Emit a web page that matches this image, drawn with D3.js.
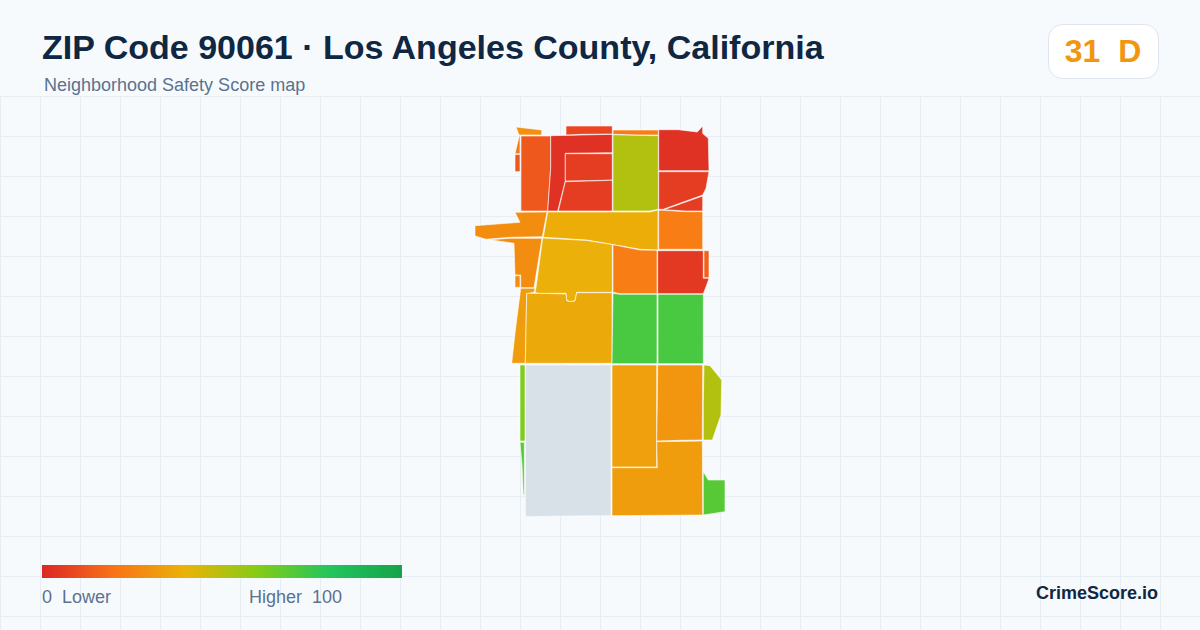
<!DOCTYPE html>
<html>
<head>
<meta charset="utf-8">
<script src="https://cdn.jsdelivr.net/npm/d3@7/dist/d3.min.js"></script>
<style>
  html, body { margin: 0; padding: 0; background: #f7fafc; }
  svg { display: block; }
  text { font-family: "Liberation Sans", Arial, sans-serif; white-space: pre; }
</style>
</head>
<body>
<svg id="chart" width="1200" height="630"></svg>
<script>
const titleText = "ZIP Code 90061 · Los Angeles County, California";
const subtitleText = "Neighborhood Safety Score map";
const scoreValue = 31;
const scoreGrade = "D";
const brandText = "CrimeScore.io";
const legendLow = "0  Lower";
const legendHigh = "Higher  100";

const colorDomain = [0, 20, 40, 60, 80, 100];
const colorRange = ["#dc2626", "#f97316", "#eab308", "#84cc16", "#22c55e", "#16a34a"];

// tract scores, null = no data. same order as tractRings
const tractScores = [
  29, 22, 13, 13, 3, 8, 6, 6, 23, 51, 3, 6, 6,
  38, 28, 23, 15, 28, 39, 23, 5, 28,
  33, 37, 72, 72, 61, 69, null, 34, 31, 33, 51, 69
];

// outlines, in map units
const tractRings = [
  [[516,127],[541.7,130],[541.7,135],[519,135]],
  [[519.3,135.7],[520,135.7],[520,153.7],[515,153.7]],
  [[515,154.5],[520,154.5],[520,171.7],[515,171.7]],
  [[521,136],[550.7,136],[550.7,168],[547.7,211],[521,211]],
  [[550.7,135.7],[581.7,135],[612.3,134.3],[612.3,152.7],[565.3,153.3],[565.3,181],[557.7,211],[547.7,211],[550.7,168]],
  [[566,126],[612.3,126],[612.3,134],[581.7,134.3],[566,135]],
  [[565.3,153.7],[612.3,153.7],[612.3,180],[588.3,180.7],[565.3,181]],
  [[565.3,181.7],[588.3,181],[612.3,180.3],[612.3,211],[558.3,211]],
  [[613,130],[658.3,130],[658.3,135],[635,135],[613,134.3]],
  [[613,134.7],[635,135.3],[658.3,135.7],[658.3,209.3],[650,211],[613,211]],
  [[658.7,129.7],[678.3,129.7],[697.3,132],[702.7,126],[702.7,133.5],[708.3,138.3],[709,170.7],[658.7,170.7]],
  [[658.7,171.7],[709,171.7],[706,188.3],[702.7,195],[663.3,209.3],[658.7,209.3]],
  [[702.7,196],[702.7,211],[685,211],[664,209.7]],
  [[547.7,212],[650,212],[658,210],[658,250],[640,249.3],[586.7,240],[543.3,237.3]],
  [[515,212.3],[547,212],[542.3,236.7],[510,237.3],[486,239.3],[475,236],[475,225.7],[520,222.3]],
  [[658.7,210.3],[664,210.3],[685,211.7],[702.7,211.7],[702.7,249.3],[658.7,249.3]],
  [[704,250.7],[709,250.7],[709,277.7],[704,277.7]],
  [[490,239.8],[510,238.3],[542,238.3],[534,287.7],[520.7,287.7],[520.7,275],[515,275],[514,243.3]],
  [[542.7,238],[586.7,240.5],[612.3,244.5],[612.3,292.3],[576.7,292.3],[575,300.7],[570,301.7],[566.7,300],[566,293.3],[538.3,293.3],[535,292.3],[536,287.7]],
  [[613,244.7],[640,250],[657,250.3],[657,293.7],[620,293.7],[613,292.3]],
  [[657.7,250.7],[703.3,250.7],[703.3,278.3],[709,278.3],[706.7,285],[703.3,293.7],[657.7,293.7]],
  [[515,275.7],[520,275.7],[520,287.3],[515,287.3]],
  [[520.7,288.3],[535,288.3],[534,292.3],[526.7,293.7],[525.3,363.3],[511.7,363.3],[515,333.3]],
  [[526.7,293.3],[535,293.3],[566,294],[566.7,300.7],[570,301.7],[575,301],[576.7,292.7],[612,292.7],[612,363.3],[525.3,363.3]],
  [[613,293.3],[620,294.3],[657,294.3],[657,363.7],[612,363.7],[612.5,328]],
  [[658,294.3],[703.3,294.3],[703.3,363.7],[658,363.7]],
  [[520,365],[525,365],[525,441],[520,441]],
  [[520,442.3],[524.3,442.3],[524.3,495],[523.3,495],[522,465]],
  [[525.7,365],[611,365],[611,515.7],[568,516],[525.3,516.7]],
  [[612,365],[656.7,365],[656.7,467],[612,467]],
  [[657.7,365],[702.7,365],[702.3,440],[680,440.3],[656.7,441],[657.3,403]],
  [[656.7,441.7],[702.3,441],[702.7,515],[612,515.7],[612,467.7],[657.3,467.7]],
  [[704,365],[710,365.7],[721.7,380],[721,415],[712.3,440],[703.3,440],[703.3,401.7]],
  [[703.3,471.7],[708.3,480],[725,480],[725,511.7],[703.3,515]]
];

const svg = d3.select("#chart");
const color = d3.scaleLinear().domain(colorDomain).range(colorRange);
const noDataColor = "#d8e1e8";

// background grid below the header
const grid = svg.append("g").attr("stroke", "#e6eef3").attr("stroke-width", 1);
grid.selectAll("line.v").data(d3.range(0, 1200, 40)).enter().append("line")
  .attr("class", "v").attr("x1", d => d + 0.5).attr("x2", d => d + 0.5).attr("y1", 96).attr("y2", 630);
grid.selectAll("line.h").data(d3.range(96, 630, 40)).enter().append("line")
  .attr("class", "h").attr("x1", 0).attr("x2", 1200).attr("y1", d => d + 0.5).attr("y2", d => d + 0.5);

// tracts
const features = tractRings.map((r, i) => ({
  type: "Feature",
  properties: { score: tractScores[i] },
  geometry: { type: "Polygon", coordinates: [r.concat([r[0]])] }
}));
const collection = { type: "FeatureCollection", features: features };
const projection = d3.geoIdentity().fitExtent([[475, 126], [725, 516.7]], collection);
const path = d3.geoPath(projection);

svg.append("g").selectAll("path").data(features).enter().append("path")
  .attr("d", path)
  .attr("fill", d => d.properties.score === null ? noDataColor : color(d.properties.score))
  .attr("stroke", "#fff")
  .attr("stroke-width", 0.6);

// header
svg.append("text").attr("x", 42).attr("y", 59)
  .attr("font-size", 34).attr("font-weight", 700).attr("fill", "#0f2742")
  .text(titleText);
svg.append("text").attr("x", 44).attr("y", 91)
  .attr("font-size", 18).attr("fill", "#5a7290")
  .text(subtitleText);

// score badge
svg.append("rect").attr("x", 1048.5).attr("y", 24.5).attr("width", 110).attr("height", 54).attr("rx", 14)
  .attr("fill", "#fff").attr("stroke", "#dfe5ec");
svg.append("text").attr("x", 1103).attr("y", 62).attr("text-anchor", "middle")
  .attr("font-size", 32).attr("font-weight", 700).attr("fill", color(scoreValue))
  .text(scoreValue + "  " + scoreGrade);

// legend
const defs = svg.append("defs");
const grad = defs.append("linearGradient").attr("id", "legendGrad");
grad.selectAll("stop").data(colorDomain).enter().append("stop")
  .attr("offset", d => d + "%")
  .attr("stop-color", d => color(d));
svg.append("rect").attr("x", 42).attr("y", 565).attr("width", 360).attr("height", 13).attr("fill", "url(#legendGrad)");
svg.append("text").attr("x", 42).attr("y", 603).attr("font-size", 18).attr("fill", "#5a7290").text(legendLow);
svg.append("text").attr("x", 249).attr("y", 603).attr("font-size", 18).attr("fill", "#5a7290").text(legendHigh);

svg.append("text").attr("x", 1158).attr("y", 599).attr("text-anchor", "end")
  .attr("font-size", 18).attr("font-weight", 700).attr("fill", "#0f2742")
  .text(brandText);
</script>
</body>
</html>
